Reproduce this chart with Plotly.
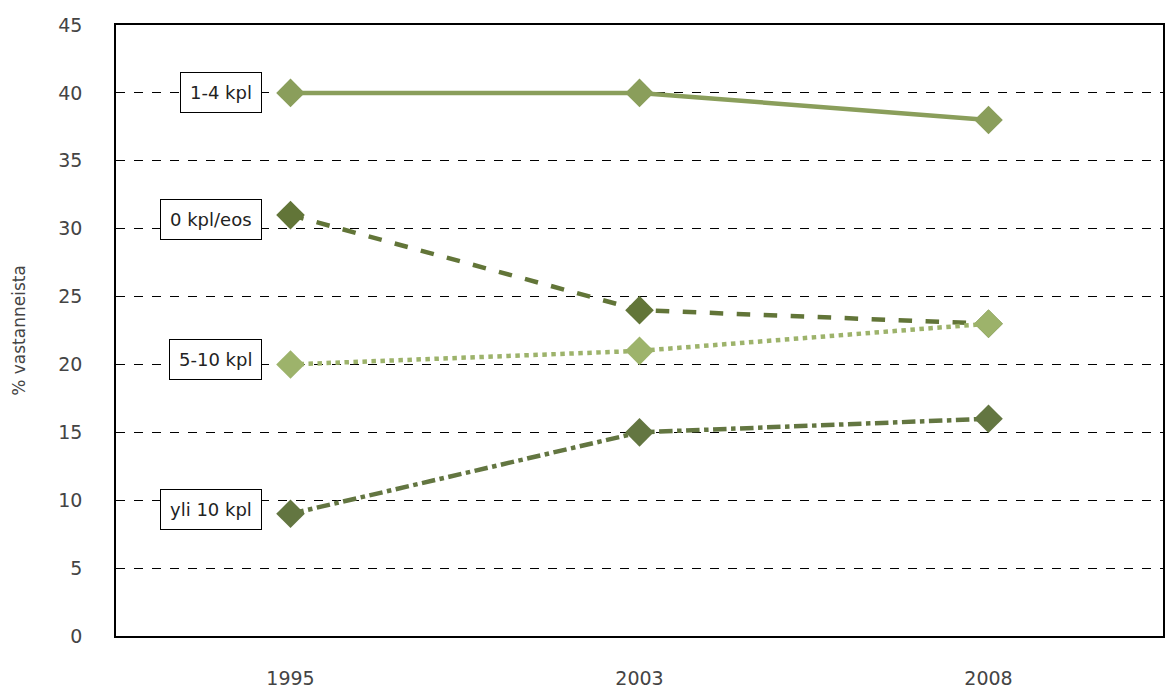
import plotly.graph_objects as go

years = ["1995", "2003", "2008"]
s_1_4 = [40, 40, 38]
s_0 = [31, 24, 23]
s_5_10 = [20, 21, 23]
s_yli10 = [9, 15, 16]
names = ["1-4 kpl", "0 kpl/eos", "5-10 kpl", "yli 10 kpl"]
y_ticks = [0, 5, 10, 15, 20, 25, 30, 35, 40, 45]

series = [
    (names[0], s_1_4, "#8a9e5b", "solid"),
    (names[1], s_0, "#627538", "dash"),
    (names[2], s_5_10, "#9db36b", "dot"),
    (names[3], s_yli10, "#637641", "dashdot"),
]

fig = go.Figure()
for name, vals, col, dash in series:
    fig.add_trace(go.Scatter(
        x=years, y=vals, name=name, mode="lines+markers",
        line=dict(color=col, width=4.5, dash=dash),
        marker=dict(symbol="diamond", size=22, color=col),
        showlegend=False,
    ))

label_y = [40, 30.7, 20.4, 9.3]
for nm, ly in zip(names, label_y):
    fig.add_annotation(
        x=0.139, xref="paper", y=ly, yref="y", text=nm, showarrow=False,
        xanchor="right", yanchor="middle",
        font=dict(family="DejaVu Sans", size=18, color="#222"),
        bgcolor="white", bordercolor="black", borderwidth=1, borderpad=9,
    )

fig.update_layout(
    width=1171, height=695,
    margin=dict(l=116, r=6, t=25, b=59),
    plot_bgcolor="white", paper_bgcolor="white",
    font=dict(family="DejaVu Sans", size=19, color="#444"),
)
fig.update_xaxes(
    type="category", range=[-0.5, 2.5], showline=True, linecolor="black", linewidth=1.5, mirror=True,
    showgrid=False, ticks="", ticklabelstandoff=24,
    tickfont=dict(size=19, color="#444"),
)
fig.update_yaxes(
    range=[0, 45], tickvals=y_ticks, showline=True, linecolor="black", linewidth=1.5,
    mirror=True, showgrid=True, gridcolor="black", griddash="dash", gridwidth=1,
    zeroline=False, ticks="", ticklabelstandoff=28,
    tickfont=dict(size=19, color="#444"),
    title=dict(text="% vastanneista", standoff=28, font=dict(size=17, color="#444")),
)

fig.write_html("out.html")
